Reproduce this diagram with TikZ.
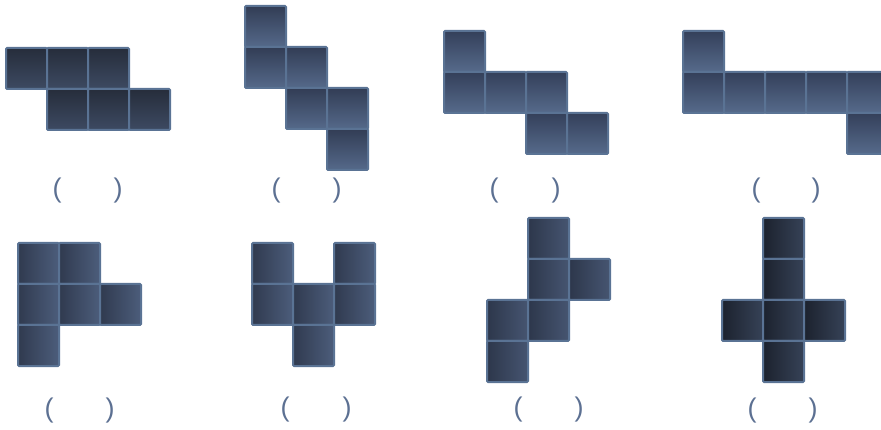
\documentclass[tikz,border=0pt]{standalone}
\usepackage{fontspec}
\setmainfont{Liberation Sans}
\usepackage{xcolor}
\usetikzlibrary{calc}

\definecolor{vien}{HTML}{5A7394}
\definecolor{ngoacmau}{HTML}{5C7092}
\definecolor{tA1}{HTML}{262D3B}\definecolor{tA2}{HTML}{3D4A62}
\definecolor{tB1}{HTML}{323D55}\definecolor{tB2}{HTML}{55698A}
\definecolor{tC1}{HTML}{34405A}\definecolor{tC2}{HTML}{566A8B}
\definecolor{dA1}{HTML}{303A4F}\definecolor{dA2}{HTML}{4C5D7B}
\definecolor{dC1}{HTML}{2D374B}\definecolor{dC2}{HTML}{465571}
\definecolor{dD1}{HTML}{1C222E}\definecolor{dD2}{HTML}{364257}

\tikzset{
    cellv/.style 2 args={draw=vien, line width=2pt, rounded corners=1pt, top color=#1, bottom color=#2},
    cellh/.style 2 args={draw=vien, line width=2pt, rounded corners=1pt, left color=#1, right color=#2},
    ngoac/.style={text=ngoacmau, inner sep=0pt, font=\fontsize{27}{27}\selectfont}
}

\begin{document}
\begin{tikzpicture}[x=1pt, y=-1pt]
    \useasboundingbox (0,0) rectangle (881,430);
    \clip (0,0) rectangle (881,430);
    \def\s{41}

    % Hàng trên
    \foreach \c/\r in {0/0,1/0,2/0,1/1,2/1,3/1} {
        \draw[cellv={tA1}{tA2}] (6+\c*\s,48+\r*\s) rectangle ++(\s,\s);
    }
    \foreach \c/\r in {0/0,0/1,1/1,1/2,2/2,2/3} {
        \draw[cellv={tB1}{tB2}] (245+\c*\s,6+\r*\s) rectangle ++(\s,\s);
    }
    \foreach \c/\r in {0/0,0/1,1/1,2/1,2/2,3/2} {
        \draw[cellv={tC1}{tC2}] (444+\c*\s,31+\r*\s) rectangle ++(\s,\s);
    }
    \foreach \c/\r in {0/0,0/1,1/1,2/1,3/1,4/1,4/2} {
        \draw[cellv={tC1}{tC2}] (683+\c*\s,31+\r*\s) rectangle ++(\s,\s);
    }

    % Hàng dưới
    \foreach \c/\r in {0/0,1/0,0/1,1/1,2/1,0/2} {
        \draw[cellh={dA1}{dA2}] (18+\c*\s,243+\r*\s) rectangle ++(\s,\s);
    }
    \foreach \c/\r in {0/0,2/0,0/1,1/1,2/1,1/2} {
        \draw[cellh={dA1}{dA2}] (252+\c*\s,243+\r*\s) rectangle ++(\s,\s);
    }
    \foreach \c/\r in {1/0,1/1,2/1,0/2,1/2,0/3} {
        \draw[cellh={dC1}{dC2}] (487+\c*\s,218+\r*\s) rectangle ++(\s,\s);
    }
    \foreach \c/\r in {1/0,1/1,0/2,1/2,2/2,1/3} {
        \draw[cellh={dD1}{dD2}] (722+\c*\s,218+\r*\s) rectangle ++(\s,\s);
    }

    % Dấu ngoặc
    \foreach \i/\a/\b/\y in {1/57/118/191, 2/276/337/191, 3/494/556/191, 4/756/816/191,
                             5/49/110/411, 6/285/347/410, 7/518/579/410, 8/752/813/411} {
        \node[ngoac] (trai\i) at (\a,\y) {(};
        \node[ngoac] (phai\i) at (\b,\y) {)};
    }
\end{tikzpicture}
\end{document}
